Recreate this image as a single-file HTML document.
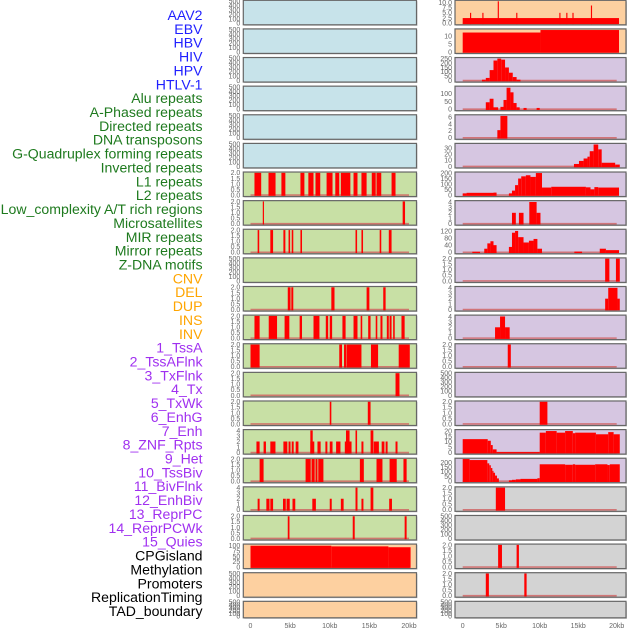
<!DOCTYPE html>
<html><head><meta charset="utf-8"><style>
html,body{margin:0;padding:0;background:#fff;width:630px;height:630px;overflow:hidden}
svg{display:block}
</style></head><body>
<svg id="chart" width="630" height="630" xmlns="http://www.w3.org/2000/svg" font-family="Liberation Sans, sans-serif"></svg>
<script>
// ---------- data ----------
const trackLabels = ["AAV2","EBV","HBV","HIV","HPV","HTLV-1","Alu repeats","A-Phased repeats","Directed repeats","DNA transposons","G-Quadruplex forming repeats","Inverted repeats","L1 repeats","L2 repeats","Low_complexity A/T rich regions","Microsatellites","MIR repeats","Mirror repeats","Z-DNA motifs","CNV","DEL","DUP","INS","INV","1_TssA","2_TssAFlnk","3_TxFlnk","4_Tx","5_TxWk","6_EnhG","7_Enh","8_ZNF_Rpts","9_Het","10_TssBiv","11_BivFlnk","12_EnhBiv","13_ReprPC","14_ReprPCWk","15_Quies","CPGisland","Methylation","Promoters","ReplicationTiming","TAD_boundary"];
const labelGroups = [6,13,5,15,5];
const groupColors = ["#1f1fff","#1e7a1e","#ffa500","#a030f0","#000000"];
const xTicks = [0,5,10,15,20];
const xTickLabels = ["0","5kb","10kb","15kb","20kb"];
const leftColors = ["b","b","b","b","b","b","g","g","g","g","g","g","g","g","g","g","g","g","g","o","o","o"];
const rightColors = ["o","o","p","p","p","p","p","p","p","p","p","p","p","p","p","p","p","g2","g2","g2","g2","g2"];
const leftMax = [500,500,500,500,500,500,2,2,2,500,2,2,2,2,2,4,2,4,2,104,500,500];
const leftTicks = [[0,100,200,300,400,500],[0,100,200,300,400,500],[0,100,200,300,400,500],[0,100,200,300,400,500],[0,100,200,300,400,500],[0,100,200,300,400,500],
 [0,0.5,1,1.5,2],[0,0.5,1,1.5,2],[0,0.5,1,1.5,2],[0,100,200,300,400,500],[0,0.5,1,1.5,2],[0,0.5,1,1.5,2],[0,0.5,1,1.5,2],[0,0.5,1,1.5,2],[0,0.5,1,1.5,2],[0,1,2,3,4],[0,0.5,1,1.5,2],[0,1,2,3,4],[0,0.5,1,1.5,2],[0,25,50,75,100],[0,100,200,300,400,500],[0,100,200,300,400,500]];
// left segments: [startKb, endKb, value]
const left6 = [[0.5,1.35,2],[2.27,3.16,2],[3.9,4.4,2],[6.3,6.8,2],[7.3,7.95,2],[8.2,8.8,2],[9.6,10.35,2],[10.7,11.2,2],[11.4,12.6,2],[13.0,13.5,2],[14.0,14.65,2],[15.3,15.8,2],[15.9,16.5,2],[17.8,18.3,2]];
const left7 = [[1.55,1.7,2],[19.2,19.5,2]];
const left8 = [[0.9,1.1,2],[2.5,2.85,2],[4.15,4.4,2],[4.8,5.0,2],[5.2,5.4,2],[6.3,6.5,2],[13.25,13.45,2],[14.0,14.2,2],[16.3,16.5,2],[17.45,17.8,2]];
const left10 = [[4.7,5.05,2],[5.15,5.4,2],[10.2,10.6,2],[14.65,15.0,2],[16.75,17.05,2]];
const left11 = [[0.5,1.15,2],[2.3,3.35,2],[4.3,4.9,2],[6.2,6.5,2],[7.95,8.7,2],[9.5,9.8,2],[10.0,10.3,2],[11.6,12.0,2],[13.0,13.5,2],[13.9,14.1,2],[14.85,15.15,2],[15.8,16.0,2],[16.4,16.65,2],[17.2,17.45,2],[17.55,17.8,2],[18.0,18.2,2],[19.05,19.45,2]];
const left12 = [[0.0,1.15,2],[11.2,11.55,2],[11.8,12.05,2],[12.1,14.0,2],[15.2,16.1,2],[18.7,20.1,2]];
const left13 = [[18.3,18.8,2]];
const left14 = [[10.0,10.2,2],[14.8,15.15,2]];
const left15 = [[0.75,1.15,2],[1.65,1.95,2],[2.5,3.15,2],[4.15,4.65,2],[4.8,5.05,2],[5.2,5.45,2],[5.7,6.05,2],[7.55,8.05,2],[7.55,7.85,4],[8.45,8.85,2],[9.45,9.7,2],[10.0,10.35,2],[10.8,11.35,2],[11.9,12.75,2],[12.05,12.5,4],[13.25,13.45,4],[14.0,14.25,2],[15.15,15.5,4],[15.55,16.2,2],[16.55,16.9,2],[17.05,17.3,2],[18.3,18.55,2]];
const left16 = [[1.15,1.65,2],[6.95,7.6,2],[7.7,8.1,2],[8.2,8.45,2],[8.55,9.2,2],[13.8,14.3,2],[15.9,16.65,2],[17.55,18.45,2],[19.3,19.7,2]];
const left17 = [[0.9,1.15,2],[2.0,2.4,2],[2.5,2.85,2],[4.1,4.45,2],[4.55,4.95,2],[5.3,5.65,2],[7.8,8.25,2],[10.0,10.25,2],[11.4,11.75,2],[13.25,13.5,4],[14.0,14.25,2],[15.15,15.5,4],[17.5,17.85,2]];
const left18 = [[4.7,4.92,2],[12.9,13.15,2],[19.45,19.7,2]];
const left19 = [[0.0,10.2,100],[10.2,17.4,97],[17.4,20.2,93]];
const leftSegs = [[],[],[],[],[],[],left6,left7,left8,[],left10,left11,left12,left13,left14,left15,left16,left17,left18,left19,[],[]];

const rightMax = [10.6,14.2,255,145,6.4,36.5,202,4.1,125,2,4.1,4.1,2,500,2,20.6,236,2,500,2,2,500];
const rightTicks = [[0,2.5,5,7.5,10],[0,5,10],[0,50,100,150,200,250],[0,50,100],[0,2,4,6],[0,10,20,30],[0,50,100,150,200],[0,1,2,3,4],[0,40,80,120],[0,0.5,1,1.5,2],[0,1,2,3,4],[0,1,2,3,4],[0,0.5,1,1.5,2],[0,100,200,300,400,500],[0,0.5,1,1.5,2],[0,5,10,15,20],[0,50,100,150,200],[0,0.5,1,1.5,2],[0,100,200,300,400,500],[0,0.5,1,1.5,2],[0,0.5,1,1.5,2],[0,100,200,300,400,500]];
const right0 = [[0,20.3,2.5],[0.95,1.1,5],[2.55,2.7,5],[4.55,4.7,10.5],[6.95,7.1,5],[12.55,12.7,5],[13.45,13.6,5],[14.25,14.4,5],[16.65,16.8,8.5]];
const right1 = [[0,10.1,12.4],[10.1,20.3,14]];
const right2 = [[2.5,3.0,10],[3.0,3.5,30],[3.5,4.0,120],[4.0,4.5,230],[4.5,5.0,252],[5.0,5.5,240],[5.5,6.0,150],[6.0,6.5,90],[6.5,7.0,40],[7.0,7.5,10]];
const right3 = [[3.0,3.5,45],[3.5,4.0,68],[4.0,4.6,12],[4.9,5.3,15],[5.3,5.7,60],[5.7,6.2,140],[6.2,6.6,110],[6.6,7.0,40],[7.0,7.4,12],[7.9,8.3,8],[9.6,10.0,8]];
const right4 = [[4.5,4.9,2.2],[4.9,5.8,6.3]];
const right5 = [[14.45,15.1,4],[15.1,15.7,9],[15.7,16.2,13],[16.2,16.5,16],[16.5,17.0,25],[17.0,17.6,36],[17.6,18.05,28],[18.05,19.8,6],[19.8,20.4,3]];
const right6 = [[0,0.5,15],[0.5,4.0,20],[4.0,4.4,22],[6.0,6.4,15],[6.4,6.8,40],[6.8,7.2,90],[7.2,7.6,150],[7.6,8.2,170],[8.2,8.8,180],[8.8,9.5,165],[9.5,10.3,200],[10.3,11.5,68],[11.5,16.0,75],[16.0,16.6,70],[16.6,17.1,52],[17.1,17.6,72],[17.6,20.3,68]];
const right7 = [[6.4,6.9,2],[7.3,7.9,2],[8.65,9.6,4],[9.6,10.1,2]];
const right8 = [[1.25,2.25,3],[2.8,3.2,20],[3.2,3.6,50],[3.6,4.0,62],[4.0,4.4,40],[6.0,6.4,30],[6.4,6.8,110],[6.8,7.2,120],[7.2,7.9,85],[7.9,8.6,55],[8.6,9.2,65],[9.2,9.7,75],[9.7,10.3,20],[14.5,15.5,4],[17.8,18.6,20],[18.6,20.3,12]];
const right9 = [[18.5,19.05,2],[19.9,20.4,2]];
const right10 = [[18.5,18.9,2],[18.9,20.1,4],[20.1,20.4,2]];
const right11 = [[4.2,4.85,2],[4.85,5.5,4],[5.5,6.1,2]];
const right12 = [[5.85,6.25,2]];
const right14 = [[10.0,11.0,2]];
const right15 = [[0,3.25,12.5],[3.25,3.65,11],[3.65,3.9,7],[3.9,4.4,3],[4.4,10.0,0.5],[10.0,10.8,18.5],[10.8,12.2,20],[12.2,13.3,18.5],[13.3,14.3,20],[14.3,14.6,18],[14.6,17.3,18.5],[17.3,18.9,17],[18.9,19.6,19],[19.6,20.4,17]];
const right16 = [[0,0.9,236],[0.9,3.2,225],[3.2,3.45,190],[3.45,3.65,170],[3.65,3.85,140],[3.85,4.0,110],[4.0,4.2,90],[4.2,4.45,60],[4.45,4.7,30],[6.0,6.4,10],[6.4,6.9,15],[6.9,7.5,20],[7.5,9.7,25],[9.7,10.0,32],[10.0,13.3,180],[13.3,14.3,175],[14.3,14.6,180],[14.6,17.2,175],[17.2,18.8,180],[18.8,19.1,172],[19.1,20.4,180]];
const right17 = [[4.3,5.5,2]];
const right19 = [[4.6,5.1,2],[7.0,7.3,2]];
const right20 = [[3.0,3.4,2],[8.0,8.3,2]];
const rightSegs = [right0,right1,right2,right3,right4,right5,right6,right7,right8,right9,right10,right11,right12,[],right14,right15,right16,right17,[],right19,right20,[]];

// ---------- layout ----------
const NS = "http://www.w3.org/2000/svg";
const svg = document.getElementById('chart');
const fills = {b:"#c7e3ea",g:"#c8e0a5",o:"#fdd0a0",p:"#d6c6e1",g2:"#d3d3d3"};
const L = {x0:243.3, x1:416.5, k0:250.5, k1:409};
const R = {x0:455, x1:626, k0:462.7, k1:616.7};
function xScale(col, kb){ return col.k0 + kb/20*(col.k1-col.k0); }
function rowTop(i){ return 0.3 + i*28.62; }
function rowH(i){ return i===21 ? 16.5 : 24.5; }
function mk(tag, attrs, parent){ const e=document.createElementNS(NS,tag); for(const k in attrs) e.setAttribute(k,attrs[k]); (parent||svg).appendChild(e); return e; }
function fmt(v, ticks){ const dec = ticks.some(t=>t%1!==0); return dec ? v.toFixed(1) : String(v); }

// labels
let li=0;
labelGroups.forEach((n,g)=>{ for(let k=0;k<n;k++){ const t=mk('text',{x:202.5,y:15+li*13.86+5,'text-anchor':'end','font-size':'14.1',fill:groupColors[g]});
 
 
 t.textContent=trackLabels[li]; li++; } });

function drawPanel(col, i, color, ymax, ticks, segs, side){
  const top=rowTop(i), h=rowH(i), bot=top+h;
  const g=mk('g',{});
  
  
  mk('rect',{x:col.x0+1,y:top+1,width:col.x1-col.x0,height:h,fill:'#c8c8c8'},g);
  mk('rect',{x:col.x0,y:top,width:col.x1-col.x0,height:h,fill:fills[color],stroke:'#666',"stroke-width":1.2},g);
  const y0=bot-1.5, y1=top+0.8;
  const yS=v=>y0-(v/ymax)*(y0-y1);
  if(segs.length){ const bl=mk('line',{x1:xScale(col,0),x2:xScale(col,20),y1:y0,y2:y0,stroke:'#d06060','stroke-width':1.6,opacity:0.8},g);
      }
  segs.forEach(s=>{ const x1=xScale(col,s[0]), x2=xScale(col,s[1]); const yy=Math.max(top+0.6,yS(s[2]));
    const r=mk('rect',{x:x1,y:yy,width:Math.max(0.8,x2-x1),height:Math.max(0,y0+0.8-yy),fill:'#ff0000'},g);
      });
  const tx = col.x0-3;
  ticks.forEach(t=>{ const yy=yS(t); const el=mk('text',{x:tx,y:yy+2.4,'text-anchor':'end','font-size':'7',fill:'#666'},g);
     
    el.textContent=fmt(t,ticks); });
}
for(let i=0;i<22;i++){
  drawPanel(L,i,leftColors[i],leftMax[i],leftTicks[i],leftSegs[i],'left');
  drawPanel(R,i,rightColors[i],rightMax[i],rightTicks[i],rightSegs[i],'right');
}
[L,R].forEach((col,c)=>{ xTicks.forEach((t,j)=>{ const el=mk('text',{x:xScale(col,t),y:628,'text-anchor':'middle','font-size':'7',fill:'#666'});
   
  el.textContent=xTickLabels[j]; }); });
</script>
</body></html>
